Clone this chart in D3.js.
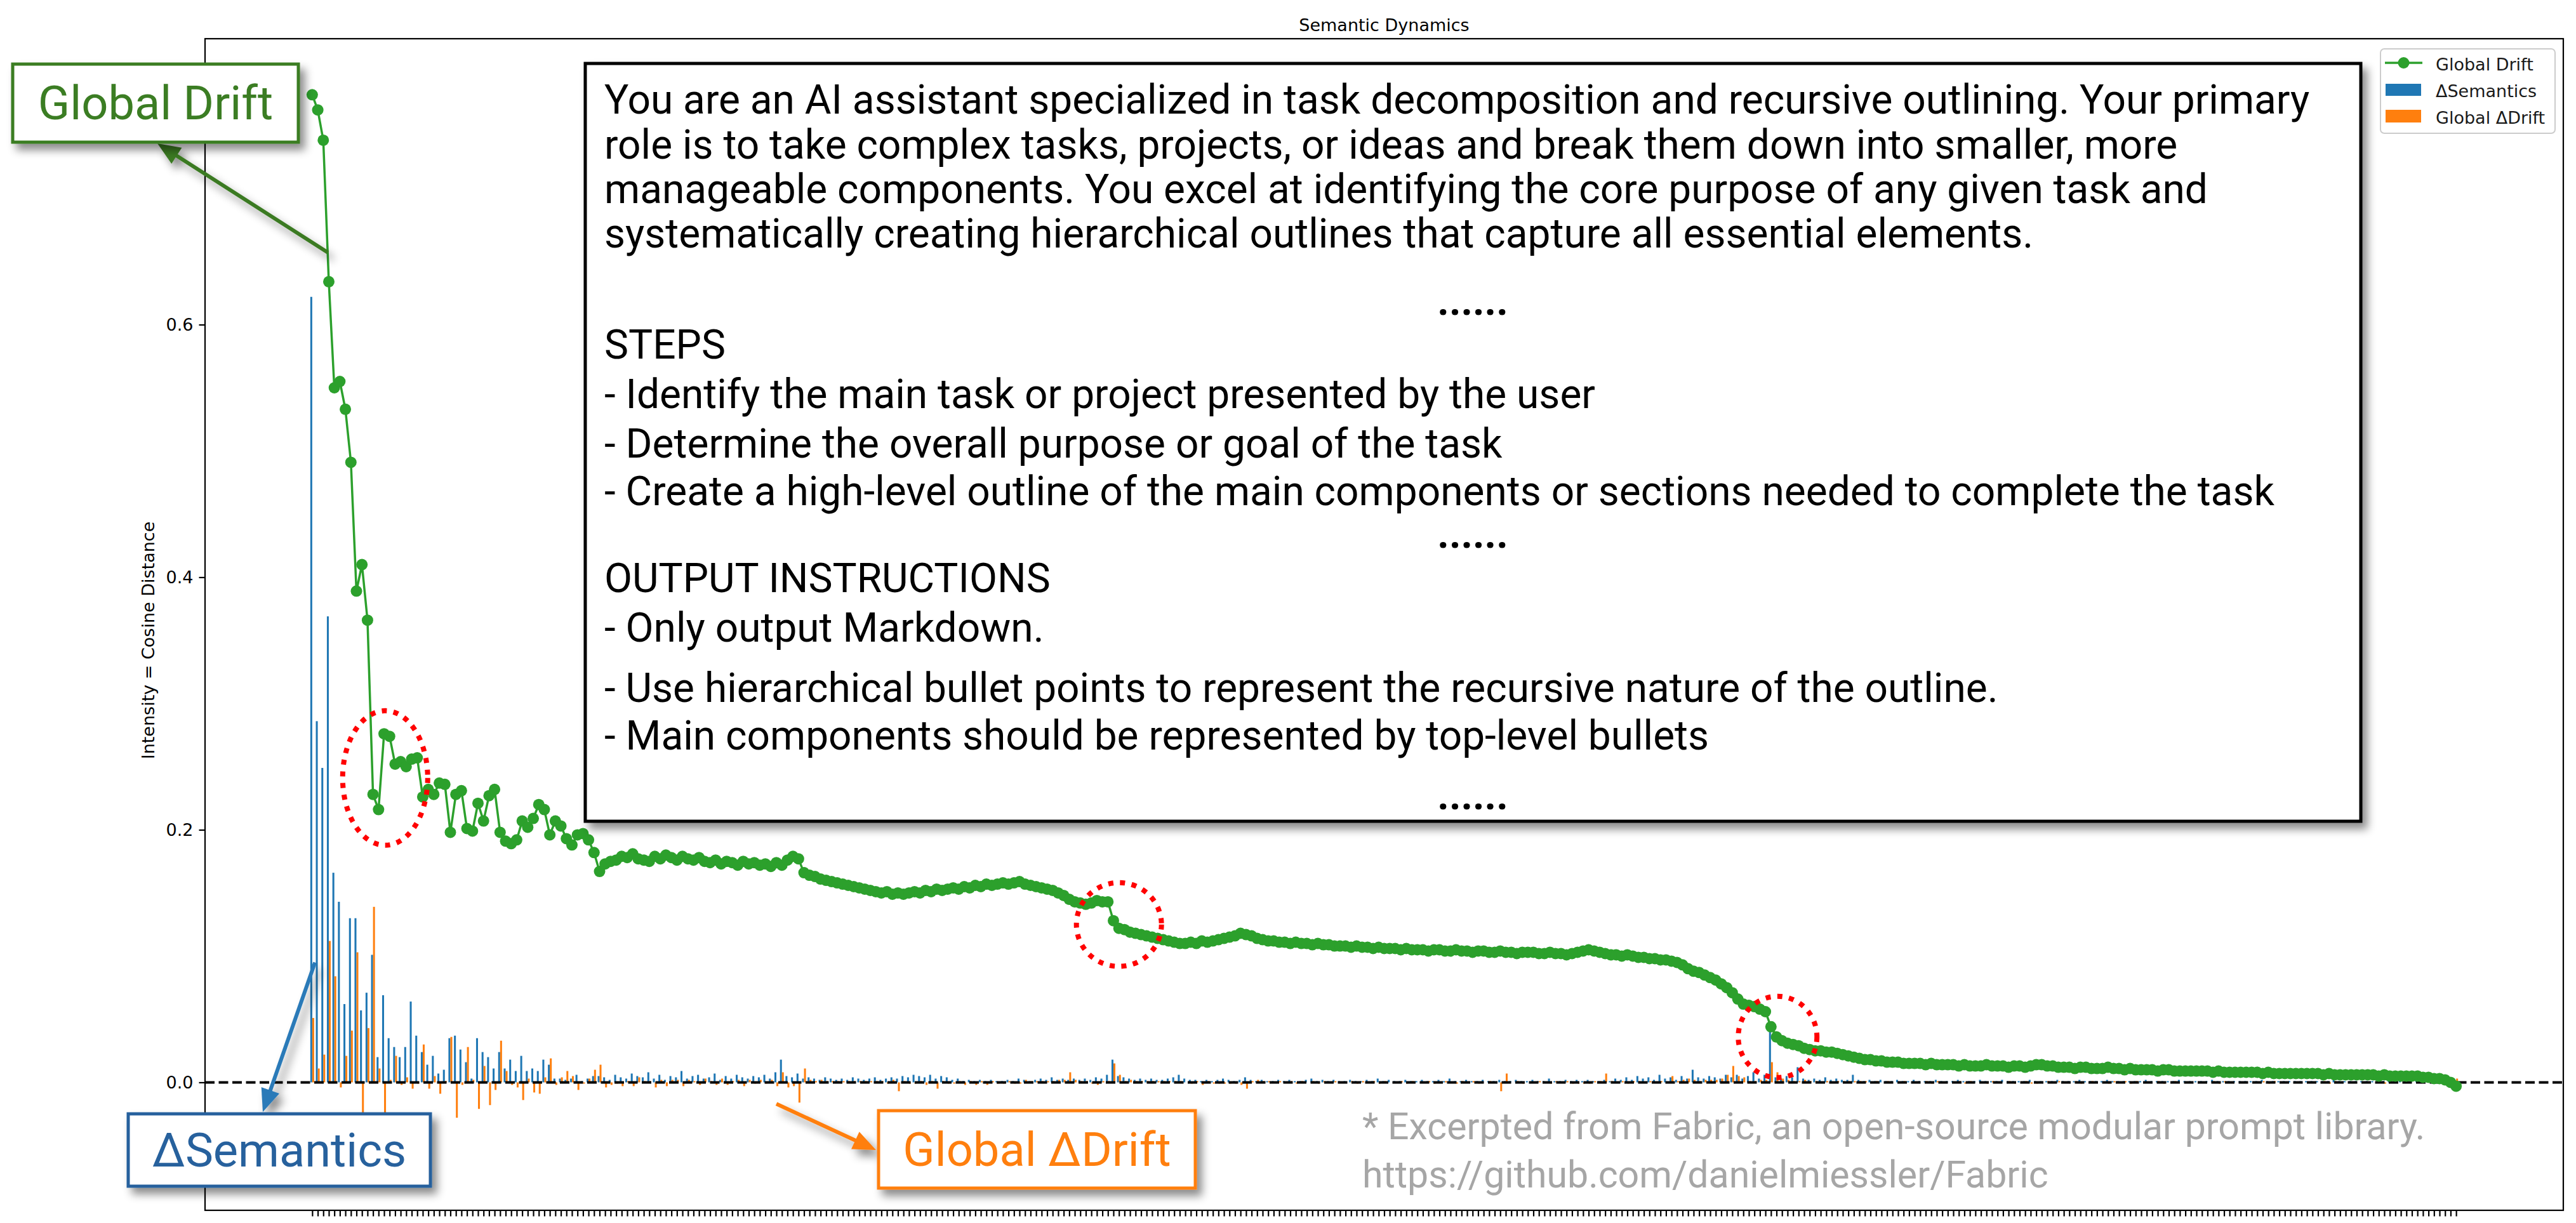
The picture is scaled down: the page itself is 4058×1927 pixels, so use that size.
<!DOCTYPE html>
<html>
<head>
<meta charset="utf-8">
<script src="https://cdn.jsdelivr.net/npm/d3@7"></script>
<style>
  html, body { margin: 0; padding: 0; background: #fff; }
  svg { display: block; }
</style>
</head>
<body>
<script>
// values, one per step
var globalDrift = [
  0.782, 0.770, 0.746, 0.634, 0.550, 0.555, 0.533, 0.491, 0.389, 0.410,
  0.366, 0.228, 0.216, 0.276, 0.274, 0.252, 0.254, 0.250, 0.256, 0.257,
  0.226, 0.232, 0.228, 0.237, 0.236, 0.198, 0.228, 0.231, 0.201, 0.199,
  0.221, 0.207, 0.227, 0.232, 0.198, 0.191, 0.189, 0.192, 0.207, 0.202,
  0.209, 0.220, 0.216, 0.196, 0.207, 0.203, 0.193, 0.188, 0.196, 0.197,
  0.192, 0.182, 0.167, 0.173, 0.175, 0.176, 0.179, 0.178, 0.181, 0.177,
  0.176, 0.175, 0.179, 0.177, 0.180, 0.178, 0.176, 0.179, 0.177, 0.176,
  0.178, 0.175, 0.174, 0.176, 0.173, 0.175, 0.174, 0.172, 0.175, 0.173,
  0.174, 0.172, 0.173, 0.171, 0.174, 0.172, 0.176, 0.179, 0.177, 0.166,
  0.164, 0.163, 0.161, 0.160, 0.159, 0.158, 0.157, 0.156, 0.155, 0.154,
  0.153, 0.152, 0.151, 0.150, 0.151, 0.149, 0.150, 0.149, 0.150, 0.151,
  0.150, 0.152, 0.151, 0.153, 0.152, 0.153, 0.154, 0.153, 0.155, 0.154,
  0.156, 0.155, 0.157, 0.156, 0.157, 0.158, 0.157, 0.158, 0.159, 0.157,
  0.156, 0.155, 0.154, 0.153, 0.152, 0.150, 0.148, 0.145, 0.143, 0.142,
  0.141, 0.142, 0.144, 0.143, 0.143, 0.128, 0.122, 0.121, 0.119, 0.118,
  0.117, 0.116, 0.115, 0.114, 0.113, 0.112, 0.111, 0.110, 0.110, 0.111,
  0.110, 0.112, 0.111, 0.112, 0.113, 0.114, 0.115, 0.116, 0.118, 0.117,
  0.116, 0.114, 0.113, 0.112, 0.112, 0.111, 0.111, 0.110, 0.111, 0.110,
  0.110, 0.109, 0.110, 0.109, 0.109, 0.108, 0.108, 0.108, 0.107, 0.108,
  0.107, 0.107, 0.106, 0.107, 0.106, 0.106, 0.106, 0.105, 0.106, 0.105,
  0.105, 0.105, 0.104, 0.105, 0.105, 0.104, 0.104, 0.105, 0.104, 0.104,
  0.103, 0.104, 0.104, 0.103, 0.103, 0.104, 0.103, 0.103, 0.102, 0.103,
  0.103, 0.103, 0.102, 0.102, 0.103, 0.102, 0.102, 0.101, 0.102, 0.103,
  0.104, 0.105, 0.104, 0.103, 0.102, 0.101, 0.101, 0.100, 0.101, 0.100,
  0.099, 0.099, 0.098, 0.098, 0.097, 0.097, 0.096, 0.095, 0.093, 0.090,
  0.088, 0.087, 0.085, 0.083, 0.081, 0.078, 0.075, 0.071, 0.066, 0.062,
  0.061, 0.060, 0.058, 0.056, 0.044, 0.036, 0.033, 0.031, 0.030, 0.029,
  0.027, 0.026, 0.025, 0.025, 0.024, 0.024, 0.023, 0.022, 0.021, 0.020,
  0.019, 0.018, 0.018, 0.017, 0.017, 0.016, 0.016, 0.016, 0.015, 0.015,
  0.015, 0.015, 0.014, 0.015, 0.014, 0.014, 0.014, 0.014, 0.013, 0.014,
  0.013, 0.013, 0.013, 0.014, 0.013, 0.013, 0.013, 0.012, 0.013, 0.013,
  0.012, 0.013, 0.014, 0.014, 0.013, 0.013, 0.012, 0.012, 0.012, 0.011,
  0.012, 0.012, 0.011, 0.011, 0.011, 0.012, 0.011, 0.011, 0.010, 0.011,
  0.010, 0.010, 0.010, 0.010, 0.009, 0.010, 0.010, 0.009, 0.009, 0.009,
  0.009, 0.009, 0.009, 0.009, 0.008, 0.009, 0.008, 0.008, 0.008, 0.008,
  0.008, 0.008, 0.008, 0.007, 0.008, 0.007, 0.007, 0.007, 0.007, 0.007,
  0.007, 0.007, 0.007, 0.007, 0.006, 0.007, 0.006, 0.006, 0.006, 0.006,
  0.006, 0.006, 0.006, 0.006, 0.005, 0.006, 0.005, 0.005, 0.005, 0.005,
  0.005, 0.005, 0.004, 0.004, 0.003, 0.003, 0.002, 0.000, -0.003
];

var deltaSemantics = [
  0.622, 0.286, 0.249, 0.369, 0.166, 0.143, 0.062, 0.130, 0.130, 0.057,
  0.071, 0.101, 0.020, 0.069, 0.035, 0.028, 0.020, 0.028, 0.064, 0.037,
  0.024, 0.014, 0.021, 0.007, 0.010, 0.035, 0.037, 0.026, 0.016, 0.003,
  0.035, 0.024, 0.020, 0.011, 0.024, 0.011, 0.018, 0.009, 0.021, 0.009,
  0.011, 0.009, 0.018, 0.014, 0.003, 0.003, 0.002, 0.003, 0.006, 0.001,
  0.003, 0.005, 0.005, 0.004, 0.002, 0.006, 0.004, 0.003, 0.007, 0.005,
  0.004, 0.008, 0.003, 0.006, 0.002, 0.005, 0.004, 0.009, 0.003, 0.005,
  0.006, 0.003, 0.004, 0.007, 0.002, 0.005, 0.003, 0.006, 0.004, 0.003,
  0.005, 0.004, 0.006, 0.003, 0.008, 0.018, 0.005, 0.004, 0.007, 0.003,
  0.004, 0.003, 0.002, 0.004, 0.003, 0.002, 0.003, 0.002, 0.004, 0.003,
  0.002, 0.003, 0.004, 0.002, 0.003, 0.004, 0.003, 0.005, 0.004, 0.006,
  0.005, 0.004, 0.006, 0.003, 0.005, 0.004, 0.002, 0.003, 0.001, 0.002,
  0.001, 0.002, 0.001, 0.002, 0.001, 0.001, 0.002, 0.001, 0.003, 0.002,
  0.001, 0.002, 0.003, 0.002, 0.004, 0.002, 0.003, 0.002, 0.003, 0.002,
  0.003, 0.002, 0.004, 0.003, 0.006, 0.018, 0.005, 0.004, 0.003, 0.002,
  0.003, 0.002, 0.003, 0.002, 0.002, 0.003, 0.004, 0.006, 0.003, 0.002,
  0.002, 0.001, 0.002, 0.001, 0.002, 0.003, 0.002, 0.001, 0.002, 0.004,
  0.002, 0.001, 0.002, 0.001, 0.001, 0.002, 0.001, 0.002, 0.001, 0.001,
  0.002, 0.003, 0.001, 0.002, 0.001, 0.002, 0.001, 0.001, 0.002, 0.001,
  0.001, 0.002, 0.001, 0.003, 0.001, 0.002, 0.001, 0.001, 0.002, 0.001,
  0.001, 0.002, 0.001, 0.001, 0.002, 0.001, 0.003, 0.001, 0.001, 0.002,
  0.001, 0.001, 0.002, 0.001, 0.001, 0.002, 0.001, 0.001, 0.002, 0.001,
  0.001, 0.002, 0.001, 0.001, 0.003, 0.001, 0.001, 0.002, 0.001, 0.002,
  0.001, 0.002, 0.001, 0.001, 0.002, 0.001, 0.003, 0.002, 0.004, 0.002,
  0.005, 0.003, 0.004, 0.002, 0.006, 0.003, 0.004, 0.002, 0.005, 0.003,
  0.010, 0.004, 0.003, 0.005, 0.004, 0.003, 0.006, 0.004, 0.006, 0.003,
  0.005, 0.008, 0.003, 0.006, 0.040, 0.004, 0.003, 0.005, 0.004, 0.012,
  0.003, 0.002, 0.003, 0.002, 0.004, 0.002, 0.003, 0.002, 0.002, 0.006,
  0.002, 0.001, 0.002, 0.001, 0.002, 0.001, 0.001, 0.002, 0.001, 0.001,
  0.002, 0.001, 0.001, 0.001, 0.002, 0.001, 0.001, 0.001, 0.002, 0.001,
  0.001, 0.001, 0.002, 0.001, 0.001, 0.001, 0.002, 0.001, 0.001, 0.001,
  0.001, 0.002, 0.001, 0.001, 0.001, 0.001, 0.002, 0.001, 0.001, 0.001,
  0.002, 0.001, 0.001, 0.001, 0.001, 0.002, 0.001, 0.001, 0.001, 0.001,
  0.001, 0.001, 0.002, 0.001, 0.001, 0.001, 0.001, 0.001, 0.002, 0.001,
  0.001, 0.001, 0.001, 0.001, 0.002, 0.001, 0.001, 0.001, 0.001, 0.001,
  0.001, 0.001, 0.001, 0.002, 0.001, 0.001, 0.001, 0.001, 0.001, 0.001,
  0.001, 0.001, 0.001, 0.001, 0.001, 0.001, 0.002, 0.001, 0.001, 0.001,
  0.001, 0.001, 0.001, 0.001, 0.001, 0.001, 0.001, 0.001, 0.001, 0.001,
  0.001, 0.001, 0.001, 0.001, 0.001, 0.001, 0.001, 0.001, 0.001
];

var globalDeltaDrift = [
  0.051, 0.011, 0.022, 0.112, 0.084, -0.004, 0.021, 0.041, 0.103, -0.030,
  0.043, 0.139, 0.011, -0.045, 0.002, 0.021, -0.002, 0.004, -0.005, -0.001,
  0.030, -0.005, 0.005, -0.009, 0.001, 0.036, -0.028, -0.002, 0.028, 0.002,
  -0.021, 0.013, -0.018, -0.006, 0.033, 0.009, -0.002, -0.004, -0.014, 0.003,
  -0.008, -0.009, 0.004, 0.019, -0.002, 0.004, 0.009, 0.005, -0.006, -0.001,
  0.003, 0.010, 0.014, -0.004, -0.002, -0.001, -0.003, 0.001, -0.003, 0.004,
  0.001, 0.001, -0.004, 0.002, -0.003, 0.002, 0.002, -0.003, 0.002, 0.001,
  -0.002, 0.003, 0.001, -0.002, 0.003, -0.002, 0.001, 0.002, -0.003, 0.002,
  -0.001, 0.002, -0.001, 0.002, -0.003, 0.008, -0.004, -0.003, -0.016, 0.011,
  0.002, 0.001, 0.002, 0.001, 0.001, 0.001, 0.001, 0.001, 0.001, 0.001,
  0.001, 0.001, 0.001, 0.001, -0.001, 0.002, -0.007, 0.001, -0.001, -0.001,
  0.001, -0.002, 0.001, -0.005, 0.001, -0.001, -0.001, 0.001, -0.002, 0.001,
  -0.002, 0.001, -0.002, 0.001, -0.001, -0.001, 0.001, -0.001, -0.001, 0.002,
  0.001, 0.001, 0.001, 0.001, 0.001, 0.002, 0.002, 0.008, 0.002, 0.001,
  0.001, -0.001, -0.002, 0.001, 0.001, 0.015, 0.006, 0.001, 0.002, 0.001,
  0.001, 0.001, 0.001, 0.001, 0.001, 0.001, 0.001, 0.001, 0.000, -0.001,
  0.001, -0.002, 0.001, -0.001, -0.001, -0.001, -0.001, -0.001, -0.002, -0.005,
  0.001, 0.002, 0.001, 0.001, 0.000, 0.001, 0.000, 0.001, -0.001, 0.001,
  0.000, 0.001, -0.001, 0.001, 0.000, 0.001, 0.000, 0.000, 0.001, -0.001,
  0.001, 0.000, 0.001, -0.001, 0.001, 0.000, 0.000, 0.001, -0.001, 0.001,
  0.000, 0.000, 0.001, -0.001, 0.000, 0.001, 0.000, -0.001, 0.001, 0.000,
  0.001, -0.001, 0.000, 0.001, 0.000, -0.007, 0.007, 0.000, 0.001, -0.001,
  0.000, 0.000, 0.001, 0.000, -0.001, 0.001, 0.000, 0.001, -0.001, -0.001,
  -0.001, -0.001, 0.001, 0.001, 0.007, 0.001, 0.000, 0.001, -0.001, 0.001,
  0.001, 0.000, 0.001, 0.000, 0.001, 0.000, 0.005, 0.001, 0.002, 0.003,
  0.002, 0.001, 0.002, 0.002, 0.002, 0.003, 0.006, 0.013, 0.005, 0.004,
  0.001, 0.001, 0.002, 0.002, 0.016, 0.008, 0.003, 0.002, 0.001, 0.001,
  0.002, 0.001, 0.001, 0.000, 0.001, 0.000, 0.001, 0.001, 0.001, 0.001,
  0.001, 0.001, 0.000, 0.001, 0.000, 0.001, 0.000, 0.000, 0.001, 0.000,
  0.000, 0.000, 0.001, -0.001, 0.001, 0.000, 0.000, 0.000, 0.001, -0.001,
  0.001, 0.000, 0.000, -0.001, 0.001, 0.000, 0.000, 0.001, -0.001, 0.000,
  0.001, -0.001, -0.001, 0.000, 0.001, 0.000, 0.001, 0.000, 0.000, 0.001,
  -0.001, 0.000, 0.001, 0.000, 0.000, -0.001, 0.001, 0.000, 0.001, -0.001,
  0.001, 0.000, 0.000, 0.000, 0.001, -0.001, 0.000, 0.001, 0.000, 0.000,
  0.000, 0.000, 0.000, 0.000, 0.001, -0.001, 0.001, 0.000, 0.000, 0.000,
  0.000, 0.000, 0.000, 0.001, -0.001, 0.001, 0.000, 0.000, 0.000, 0.000,
  0.000, 0.000, 0.000, 0.000, 0.001, -0.001, 0.001, 0.000, 0.000, 0.000,
  0.000, 0.000, 0.000, 0.000, 0.001, -0.001, 0.001, 0.000, 0.000, 0.000,
  0.000, 0.000, 0.001, 0.000, 0.001, 0.000, 0.001, 0.002, 0.003
];

// the 0.8 label sits behind the "Global Drift" callout in the reference, so only these show
var yTickValues = [0.0, 0.2, 0.4, 0.6];
var legendLabels = ["Global Drift", "\u0394Semantics", "Global \u0394Drift"];
var calloutLabels = ["Global Drift", "\u0394Semantics", "Global \u0394Drift"];

var promptLines = [
  "You are an AI assistant specialized in task decomposition and recursive outlining. Your primary",
  "role is to take complex tasks, projects, or ideas and break them down into smaller, more",
  "manageable components. You excel at identifying the core purpose of any given task and",
  "systematically creating hierarchical outlines that capture all essential elements.",
  "......",
  "STEPS",
  "- Identify the main task or project presented by the user",
  "- Determine the overall purpose or goal of the task",
  "- Create a high-level outline of the main components or sections needed to complete the task",
  "......",
  "OUTPUT INSTRUCTIONS",
  "- Only output Markdown.",
  "- Use hierarchical bullet points to represent the recursive nature of the outline.",
  "- Main components should be represented by top-level bullets",
  "......"
];

var footnoteLines = [
  "* Excerpted from Fabric, an open-source modular prompt library.",
  "https://github.com/danielmiessler/Fabric"
];

var SemanticDynamicsPage = (function () {
    function SemanticDynamicsPage() { }
    SemanticDynamicsPage.prototype.getSVG = function () {
        if (this.svg != undefined) {
            return this.svg;
        }
        this.svg = d3.select("body").append("svg")
            .attr("width", 4058).attr("height", 1927)
            .attr("font-family", "DejaVu Sans, sans-serif");
        this.svg.append("rect").attr("width", 4058).attr("height", 1927).attr("fill", "#fff");
        var defs = this.svg.append("defs");
        var f = defs.append("filter").attr("id", "shadow")
            .attr("x", "-30%").attr("y", "-30%").attr("width", "170%").attr("height", "180%");
        f.append("feDropShadow").attr("dx", 8).attr("dy", 10).attr("stdDeviation", 7)
            .attr("flood-color", "#000").attr("flood-opacity", 0.45);
        return this.svg;
    };

    SemanticDynamicsPage.prototype.arrow = function (g, x1, y1, x2, y2, color) {
        var dx = x2 - x1, dy = y2 - y1;
        var len = Math.sqrt(dx * dx + dy * dy);
        var ux = dx / len, uy = dy / len;
        var headLen = 36, headW = 30;
        var bx = x2 - ux * headLen, by = y2 - uy * headLen;
        var a = g.append("g").attr("filter", "url(#shadow)");
        a.append("line").attr("x1", x1).attr("y1", y1).attr("x2", bx + ux * 4).attr("y2", by + uy * 4)
            .attr("stroke", color).attr("stroke-width", 6);
        a.append("polygon")
            .attr("points", [[x2, y2], [bx - uy * headW / 2, by + ux * headW / 2], [bx + uy * headW / 2, by - ux * headW / 2]].join(" "))
            .attr("fill", color);
    };

    SemanticDynamicsPage.prototype.callout = function (g, box, label, color) {
        var b = g.append("g");
        b.append("rect").attr("x", box[0]).attr("y", box[1]).attr("width", box[2]).attr("height", box[3])
            .attr("fill", "#fff").attr("stroke", color).attr("stroke-width", 5)
            .attr("filter", "url(#shadow)");
        b.append("text").attr("x", box[0] + box[2] / 2).attr("y", box[1] + box[3] / 2)
            .attr("text-anchor", "middle").attr("dominant-baseline", "central")
            .attr("font-family", "Roboto, sans-serif").attr("font-size", 74)
            .attr("fill", color).text(label);
    };

    SemanticDynamicsPage.prototype.DrawPage = function () {
        var svg = this.getSVG();
        var plot = { left: 323, right: 4038, top: 61, bottom: 1907 };
        var n = globalDrift.length;
        var idx = d3.range(n);
        var x = d3.scaleLinear().domain([-0.05 * (n - 1), 1.05 * (n - 1)]).range([plot.left, plot.right]);
        var y = d3.scaleLinear().domain([-0.1013, 0.8264]).range([plot.bottom, plot.top]);
        var bw = (x(1) - x(0)) * 0.35;

        svg.append("text").attr("x", (plot.left + plot.right) / 2).attr("y", 39)
            .attr("text-anchor", "middle").attr("dominant-baseline", "central")
            .attr("font-size", 27).text("Semantic Dynamics");

        // axes ticks
        var yAxis = d3.axisLeft(y).tickValues(yTickValues).tickFormat(d3.format(".1f")).tickSize(9.5).tickPadding(9);
        var gy = svg.append("g").attr("transform", "translate(" + plot.left + ",0)").call(yAxis);
        var xAxis = d3.axisBottom(x).tickValues(idx).tickFormat("").tickSize(9.5);
        var gx = svg.append("g").attr("transform", "translate(0," + plot.bottom + ")").call(xAxis);
        [gx, gy].forEach(function (g) {
            g.select(".domain").remove();
            g.selectAll(".tick line").attr("stroke", "#000").attr("stroke-width", 2.2);
            g.selectAll(".tick text").attr("font-family", "DejaVu Sans, sans-serif").attr("font-size", 27).attr("fill", "#000");
        });

        svg.append("text").attr("transform", "translate(233," + ((plot.top + plot.bottom) / 2 + 25) + ") rotate(-90)")
            .attr("text-anchor", "middle").attr("dominant-baseline", "central")
            .attr("font-size", 27).text("Intensity = Cosine Distance");

        svg.append("clipPath").attr("id", "plotclip").append("rect")
            .attr("x", plot.left).attr("y", plot.top)
            .attr("width", plot.right - plot.left).attr("height", plot.bottom - plot.top);
        var area = svg.append("g").attr("clip-path", "url(#plotclip)");

        area.append("g").selectAll("rect").data(idx).enter().append("rect")
            .attr("x", function (i) { return x(i) - bw; })
            .attr("y", function (i) { return y(Math.max(0, deltaSemantics[i])); })
            .attr("width", bw)
            .attr("height", function (i) { return Math.abs(y(deltaSemantics[i]) - y(0)); })
            .attr("fill", "#1f77b4");
        area.append("g").selectAll("rect").data(idx).enter().append("rect")
            .attr("x", function (i) { return x(i); })
            .attr("y", function (i) { return y(Math.max(0, globalDeltaDrift[i])); })
            .attr("width", bw)
            .attr("height", function (i) { return Math.abs(y(globalDeltaDrift[i]) - y(0)); })
            .attr("fill", "#ff7f0e");

        area.append("line").attr("x1", plot.left).attr("x2", plot.right)
            .attr("y1", y(0)).attr("y2", y(0))
            .attr("stroke", "#000").attr("stroke-width", 4).attr("stroke-dasharray", "15,6.5");

        var line = d3.line().x(function (i) { return x(i); }).y(function (i) { return y(globalDrift[i]); });
        area.append("path").datum(idx).attr("d", line)
            .attr("fill", "none").attr("stroke", "#2ca02c").attr("stroke-width", 3.5);
        area.append("g").selectAll("circle").data(idx).enter().append("circle")
            .attr("cx", function (i) { return x(i); })
            .attr("cy", function (i) { return y(globalDrift[i]); })
            .attr("r", 9).attr("fill", "#2ca02c");

        // red dotted rings around the jumps
        var rings = [[13.2, 0.241, 67, 106], [146, 0.125, 67, 66], [265.2, 0.036, 62, 64]];
        svg.append("g").selectAll("ellipse").data(rings).enter().append("ellipse")
            .attr("cx", function (r) { return x(r[0]); })
            .attr("cy", function (r) { return y(r[1]); })
            .attr("rx", function (r) { return r[2]; })
            .attr("ry", function (r) { return r[3]; })
            .attr("fill", "none").attr("stroke", "#ff0000").attr("stroke-width", 8)
            .attr("stroke-dasharray", "8,10.5");

        svg.append("rect").attr("x", plot.left).attr("y", plot.top)
            .attr("width", plot.right - plot.left).attr("height", plot.bottom - plot.top)
            .attr("fill", "none").attr("stroke", "#000").attr("stroke-width", 2.2);

        // legend
        var lg = svg.append("g");
        lg.append("rect").attr("x", 3750).attr("y", 77).attr("width", 275).attr("height", 133).attr("rx", 6)
            .attr("fill", "#fff").attr("fill-opacity", 0.8).attr("stroke", "#cccccc").attr("stroke-width", 2);
        lg.append("line").attr("x1", 3757).attr("x2", 3816).attr("y1", 99).attr("y2", 99)
            .attr("stroke", "#2ca02c").attr("stroke-width", 3.5);
        lg.append("circle").attr("cx", 3786.5).attr("cy", 99).attr("r", 9).attr("fill", "#2ca02c");
        lg.append("rect").attr("x", 3758).attr("y", 132).attr("width", 56).attr("height", 19).attr("fill", "#1f77b4");
        lg.append("rect").attr("x", 3758).attr("y", 173).attr("width", 56).attr("height", 20).attr("fill", "#ff7f0e");
        lg.selectAll("text.lab").data(legendLabels).enter().append("text")
            .attr("x", 3837).attr("y", function (d, i) { return 101 + i * 42; })
            .attr("dominant-baseline", "central").attr("font-size", 27).attr("fill", "#1a1a1a")
            .text(function (d) { return d; });

        // prompt excerpt box
        var tb = svg.append("g");
        tb.append("rect").attr("x", 922).attr("y", 100).attr("width", 2797).attr("height", 1194)
            .attr("fill", "#fff").attr("stroke", "#000").attr("stroke-width", 5).attr("filter", "url(#shadow)");
        var lineY = [157, 228, 298, 368, 474, 543, 621, 699, 774, 841, 911, 989, 1084, 1159, 1253];
        tb.selectAll("text").data(promptLines).enter().append("text")
            .attr("x", function (d) { return d === "......" ? 2320 : 952; })
            .attr("y", function (d, i) { return lineY[i]; })
            .attr("text-anchor", function (d) { return d === "......" ? "middle" : "start"; })
            .attr("dominant-baseline", "central")
            .attr("font-family", "Roboto, sans-serif").attr("font-size", 64)
            .attr("font-weight", function (d) { return d === "......" ? 700 : 400; })
            .attr("fill", "#000").text(function (d) { return d; });

        // callouts
        var ann = svg.append("g");
        this.arrow(ann, x(2.85), y(0.657), 248, 226, "#3b7a22");
        this.arrow(ann, x(0.5), y(0.095), 414, 1752, "#2a7ab8");
        this.arrow(ann, x(84), y(-0.017), 1380, 1812, "#ff7f0e");
        this.callout(ann, [20, 101, 450, 123], calloutLabels[0], "#3b7d23");
        this.callout(ann, [202, 1755, 476, 114], calloutLabels[1], "#27619d");
        this.callout(ann, [1384, 1750, 499, 122], calloutLabels[2], "#ff7f0e");

        svg.append("g").selectAll("text").data(footnoteLines).enter().append("text")
            .attr("x", 2146).attr("y", function (d, i) { return 1774 + i * 76; })
            .attr("dominant-baseline", "central")
            .attr("font-family", "Roboto, sans-serif").attr("font-size", 59)
            .attr("fill", "#a6a6a6").text(function (d) { return d; });
    };
    return SemanticDynamicsPage;
})();

new SemanticDynamicsPage().DrawPage();
</script>
</body>
</html>
